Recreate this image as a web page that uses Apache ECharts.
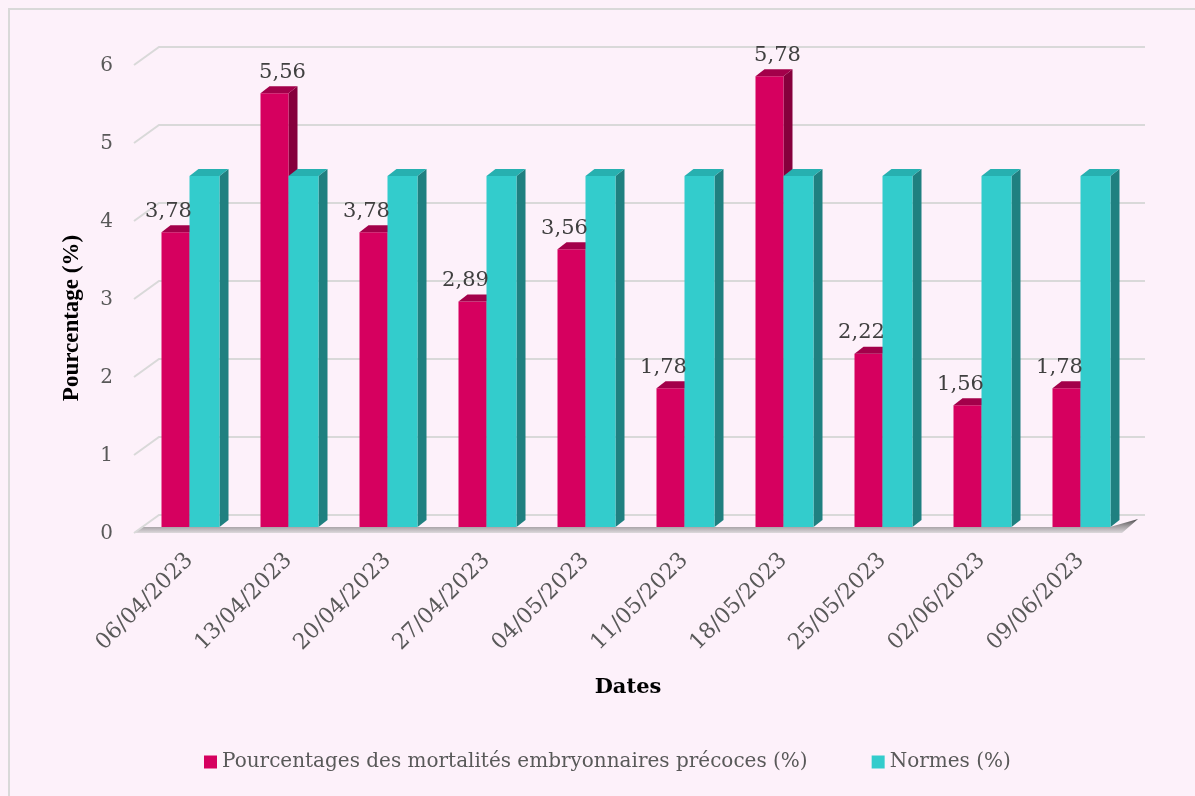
<!DOCTYPE html>
<html>
<head>
<meta charset="utf-8">
<title>Mortalités embryonnaires précoces</title>
<script src="https://cdn.jsdelivr.net/npm/echarts@6/dist/echarts.min.js"></script>
<style>
    html, body { margin: 0; padding: 0; background: #fdf1fa; }
    #demo { width: 1195px; height: 796px; }
</style>
</head>
<body>
<div id="demo"></div>
<script>
/**
 * 数据
 */
var dates = ['06/04/2023', '13/04/2023', '20/04/2023', '27/04/2023', '04/05/2023',
             '11/05/2023', '18/05/2023', '25/05/2023', '02/06/2023', '09/06/2023'];
var mortalites = [3.78, 5.56, 3.78, 2.89, 3.56, 1.78, 5.78, 2.22, 1.56, 1.78];
var normes = [4.5, 4.5, 4.5, 4.5, 4.5, 4.5, 4.5, 4.5, 4.5, 4.5];
var yTicks = [0, 1, 2, 3, 4, 5, 6];

var serieNames = ['Pourcentages des mortalités embryonnaires précoces (%)', 'Normes (%)'];

var FONT = 'DejaVu Serif';

/**
 * 3D 效果参数
 */
var depth = { dx: 9, dy: 7 };
var PINK_W = 28, CYAN_W = 30;
var colors = {
    pink: { front: '#d6005f', top: '#a3004a', side: '#86003c' },
    cyan: { front: '#33cccc', top: '#27b0b0', side: '#1f8080' }
};

var basedata = {
    echarts_bar: null
};

window.onload = function () {
    init_application();
};

var init_application = function () {
    basedata.echarts_bar = echarts.init(document.getElementById('demo'));
    basedata.echarts_bar.setOption(build_option());
    window.onresize = function () {
        basedata.echarts_bar.resize();
    };
};

/******************************************************* 函数区 ********************************************************/

// 文本格式 3.78 -> 3,78
function fmt(v) {
    return v.toFixed(2).replace('.', ',');
}

// 3D 柱子
function make_bar(pal, width, isLeft) {
    return function (params, api) {
        var i = api.value(0);
        var v = api.value(1);
        var top = api.coord([i, v]);
        var base = api.coord([i, 0]);
        var x0 = isLeft ? top[0] - width : top[0];
        var x1 = x0 + width;
        var yt = top[1], yb = base[1];
        var dx = depth.dx, dy = depth.dy;
        return {
            type: 'group',
            children: [
                {
                    type: 'polygon',
                    shape: { points: [[x1, yt], [x1 + dx, yt - dy], [x1 + dx, yb - dy], [x1, yb]] },
                    style: { fill: pal.side }
                },
                {
                    type: 'rect',
                    shape: { x: x0, y: yt, width: width, height: yb - yt },
                    style: { fill: pal.front }
                },
                {
                    type: 'polygon',
                    shape: { points: [[x0, yt], [x0 + dx, yt - dy], [x1 + dx, yt - dy], [x1, yt]] },
                    style: { fill: pal.top }
                }
            ]
        };
    };
}

// 数据标签 (低于标准时向左偏移)
function render_label(params, api) {
    var i = api.value(0);
    var v = api.value(1);
    var ref = api.value(2);
    var top = api.coord([i, v]);
    var cx = top[0] - PINK_W / 2 + (v > ref ? 8 : -7);
    return {
        type: 'text',
        style: {
            x: cx,
            y: top[1] - 21,
            text: fmt(v),
            align: 'center',
            verticalAlign: 'middle',
            font: '21px "' + FONT + '"',
            fill: '#404040'
        }
    };
}

// 背景网格线 (前 -> 后) + 刻度文字
function render_grid(params, api) {
    var cs = params.coordSys;
    var v = api.value(0);
    var y = api.coord([0, v])[1];
    var gl = cs.x, gr = cs.x + cs.width;
    var children = [];
    if (v === 0) {
        children.push({
            type: 'polygon',
            shape: { points: [[gl - 6, y + 6], [gl + 2, y], [gr - 20, y], [gr + 8, y - 8], [gr - 8, y + 6]] },
            style: {
                fill: new echarts.graphic.LinearGradient(0, 0, 0, 1, [
                    { offset: 0, color: 'rgba(40,40,40,0.85)' },
                    { offset: 0.55, color: 'rgba(110,110,110,0.6)' },
                    { offset: 1, color: 'rgba(200,200,200,0.6)' }
                ])
            }
        });
    }
    children.push({
        type: 'polyline',
        shape: { points: [[gl - 6, y + 6], [gl + 19, y - 12], [gr + 15, y - 12]] },
        style: { stroke: '#d9d9d9', lineWidth: 2, fill: null }
    });
    children.push({
        type: 'text',
        style: {
            x: gl - 27,
            y: y + 7,
            text: String(v),
            align: 'right',
            verticalAlign: 'middle',
            font: '20px "' + FONT + '"',
            fill: '#595959'
        }
    });
    return { type: 'group', children: children };
}

function build_option() {
    return {
        backgroundColor: '#fdf1fa',
        textStyle: { fontFamily: FONT },
        graphic: [{
            type: 'rect',
            shape: { x: 9, y: 9, width: 1200, height: 800 },
            style: { fill: null, stroke: '#d9d9d9', lineWidth: 2 },
            silent: true
        }],
        grid: { left: 140, right: 65, top: 59, bottom: 269 },
        legend: {
            top: 747,
            left: 199,
            itemWidth: 13,
            itemHeight: 13,
            itemGap: 64,
            icon: 'rect',
            textStyle: { fontFamily: FONT, fontSize: 20, color: '#595959' },
            data: serieNames
        },
        xAxis: {
            type: 'category',
            data: dates,
            axisLine: { show: false },
            axisTick: { show: false },
            axisLabel: {
                rotate: 45,
                margin: 30,
                fontSize: 22,
                fontFamily: FONT,
                color: '#595959',
                interval: 0
            },
            name: 'Dates',
            nameLocation: 'middle',
            nameGap: 150,
            nameTextStyle: { fontSize: 21, fontWeight: 'bold', color: '#000', fontFamily: FONT, padding: [0, 14, 0, 0] }
        },
        yAxis: {
            type: 'value',
            min: 0,
            max: 6,
            interval: 1,
            axisLine: { show: false },
            axisTick: { show: false },
            splitLine: { show: false },
            axisLabel: { show: false },
            name: 'Pourcentage (%)',
            nameLocation: 'middle',
            nameGap: 56,
            nameTextStyle: { fontSize: 23, fontWeight: 'bold', color: '#000', fontFamily: 'Liberation Serif', padding: [0, 50, 0, 0] }
        },
        series: [
            {
                type: 'custom',
                silent: true,
                z: 1,
                renderItem: render_grid,
                data: yTicks.map(function (v) { return [v]; }),
                encode: { y: 0 }
            },
            {
                name: serieNames[0],
                type: 'custom',
                z: 3,
                itemStyle: { color: colors.pink.front },
                renderItem: make_bar(colors.pink, PINK_W, true),
                data: mortalites.map(function (v, i) { return [i, v]; }),
                encode: { x: 0, y: 1 }
            },
            {
                name: serieNames[1],
                type: 'custom',
                z: 4,
                itemStyle: { color: colors.cyan.front },
                renderItem: make_bar(colors.cyan, CYAN_W, false),
                data: normes.map(function (v, i) { return [i, v]; }),
                encode: { x: 0, y: 1 }
            },
            {
                type: 'custom',
                silent: true,
                z: 5,
                renderItem: render_label,
                data: mortalites.map(function (v, i) { return [i, v, normes[i]]; }),
                encode: { x: 0, y: 1 }
            }
        ]
    };
}
</script>
</body>
</html>
